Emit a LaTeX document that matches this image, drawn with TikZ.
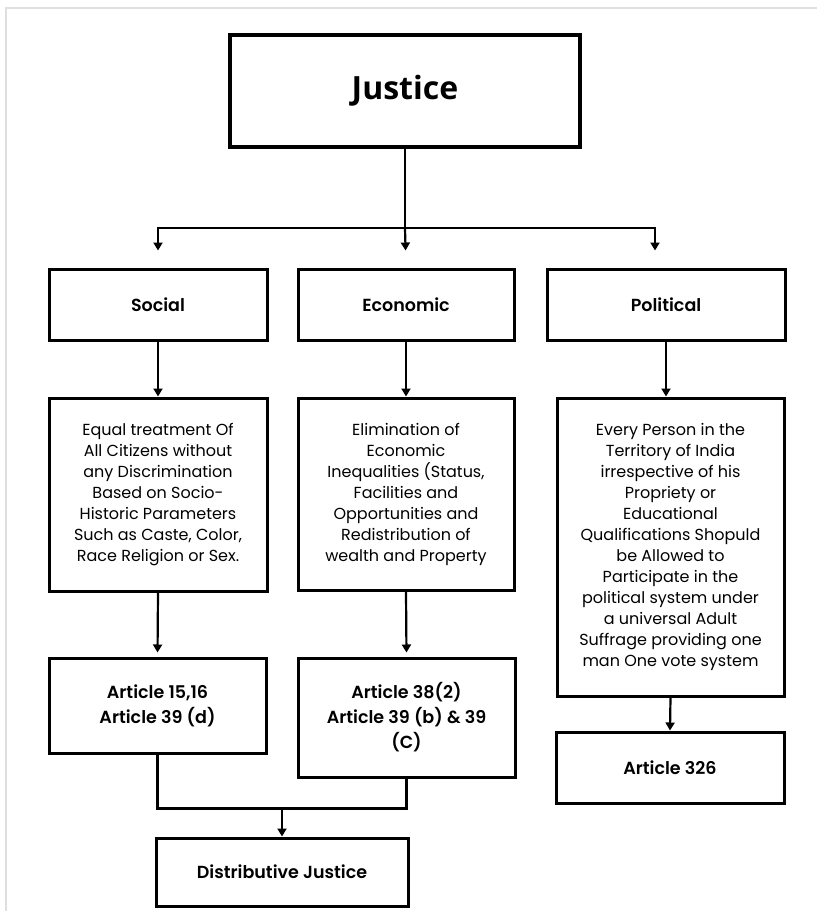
\documentclass[tikz,border=0pt]{standalone}
\usepackage{fontspec}
\setmainfont{Poppins}
\newfontfamily\headfont{Open Sans}
\newfontfamily\semifont{Poppins SemiBold}
\usetikzlibrary{positioning,arrows.meta}

\begin{document}
\begin{tikzpicture}[x=1pt,y=-1pt,
  box/.style={draw,line width=3pt,inner sep=0pt,align=center},
  lbl/.style={box,font=\semifont\fontsize{17.5}{25}\selectfont},
  txt/.style={box,font=\fontsize{16}{21}\selectfont},
  link/.style={line width=2.2pt,line cap=rect},
  arr/.style={-{Triangle[length=8pt,width=9pt]},line width=2.2pt}]
\useasboundingbox (0,0) rectangle (817,911);
% frame
\draw[gray!25,line width=2pt] (6,911) -- (6,8) -- (817,8);
% top
\node[box,line width=4pt,minimum width=350pt,minimum height=112pt,font=\headfont\bfseries\fontsize{32}{38}\selectfont] (justice) at (405,91) {Justice};
% three kinds
\node[lbl,minimum width=218pt,minimum height=71pt] (social) at (158,304.5) {Social};
\node[lbl,minimum width=216pt,minimum height=71pt] (economic) at (406,304.5) {Economic};
\node[lbl,minimum width=238pt,minimum height=71pt] (political) at (666,304.5) {Political};
\draw[link] (justice.south) -- ++(0,79) coordinate (split);
\coordinate (pl) at ([xshift=-11pt]split -| political);
\draw[link] (split -| social) -- (pl);
\draw[arr,shorten >=17pt] (split -| social) -- (social.north);
\draw[arr,shorten >=17pt] (split) -- (economic.north);
\draw[arr,shorten >=17pt] (pl) -- ([xshift=-11pt]political.north);
% descriptions
\node[txt,minimum width=218pt,minimum height=193pt] (socdesc) at (158,494.5) {Equal treatment Of\\All Citizens without\\any Discrimination\\Based on Socio-\\Historic Parameters\\Such as Caste, Color,\\Race Religion or Sex.};
\node[txt,minimum width=216pt,minimum height=192pt] (ecodesc) at (406,494) {Elimination of\\Economic\\Inequalities (Status,\\Facilities and\\Opportunities and\\Redistribution of\\wealth and Property};
\node[txt,minimum width=227pt,minimum height=298pt] (poldesc) at (670.5,547) {Every Person in the\\Territory of India\\irrespective of his\\Propriety or\\Educational\\Qualifications Shopuld\\be Allowed to\\Participate in the\\political system under\\a universal Adult\\Suffrage providing one\\man One vote system};
\draw[arr] (social.south) -- (socdesc.north);
\draw[arr] (economic.south) -- (ecodesc.north);
\draw[arr] (political.south) -- (political.south |- poldesc.north);
% articles
\node[lbl,minimum width=217pt,minimum height=95pt] (art1) at (157.5,705.5) {Article 15,16\\Article 39 (d)};
\node[lbl,minimum width=217pt,minimum height=119pt] (art2) at (406.5,717.5) {Article 38(2)\\Article 39 (b) \& 39\\(C)};
\node[lbl,minimum width=228pt,minimum height=71pt] (art3) at (670,767.5) {Article 326};
\draw[arr,shorten >=4pt] (socdesc.south) -- (art1.north);
\draw[arr,shorten >=4pt] (ecodesc.south) -- (art2.north);
\draw[arr] (poldesc.south) -- (art3.north);
% joined result
\node[lbl,minimum width=252pt,minimum height=68pt] (dist) at (282,872) {Distributive Justice};
\draw[link] (art1.south) -- ++(0,54) coordinate (join) -| (art2.south);
\draw[arr] (join -| dist.north) -- (dist.north);
\end{tikzpicture}
\end{document}
